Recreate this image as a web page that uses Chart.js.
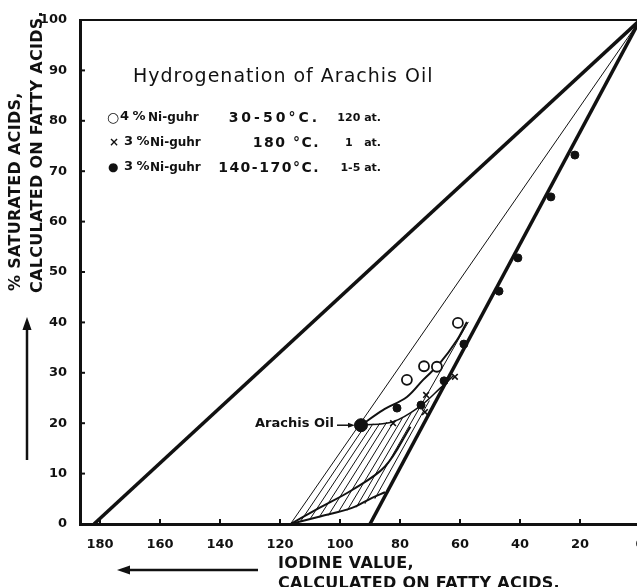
<!DOCTYPE html>
<html>
<head>
<meta charset="UTF-8">
<title>Hydrogenation of Arachis Oil</title>
<script src="https://cdn.jsdelivr.net/npm/chart.js"></script>
<style>
  body { margin: 0; background: #fff; overflow: hidden; }
  #wrap { position: relative; width: 637px; height: 587px; overflow: hidden; }
  #chart { position: absolute; left: 0; top: 0; }
  .t { position: absolute; white-space: nowrap; color: #111; font-family: "DejaVu Sans", sans-serif; }
  .lg { font-size: 12px; font-weight: bold; line-height: 14px; }
  .tp { font-size: 14px; letter-spacing: 1.5px; line-height: 14px; text-align: right; left: 190px; width: 130px; }
  .pr { font-size: 11px; line-height: 14px; text-align: right; left: 320px; width: 61px; }
  .ax { font-size: 16px; font-weight: bold; line-height: 16px; letter-spacing: 0.3px; }
  .rot { transform: rotate(-90deg); transform-origin: left top; }
</style>
</head>
<body>
<div id="wrap">
  <canvas id="chart" width="680" height="587"></canvas>

  <div class="t" style="left:133px; top:64px; font-size:19px; line-height:22px; letter-spacing:1px;">Hydrogenation of Arachis Oil</div>

  <!-- legend -->
  <div class="t lg" style="left:107px; top:110px; font-size:14px;">○</div>
  <div class="t lg" style="left:120px; top:109px; font-size:13px; letter-spacing:-0.5px;">4 %</div>
  <div class="t lg" style="left:148px; top:110px;">Ni-guhr</div>
  <div class="t lg tp" style="top:110px; letter-spacing:3px;">30-50°C.</div>
  <div class="t lg pr" style="top:111px;">120 at.</div>

  <div class="t lg" style="left:109px; top:135px;">×</div>
  <div class="t lg" style="left:124px; top:134px; font-size:13px; letter-spacing:-0.5px;">3 %</div>
  <div class="t lg" style="left:150px; top:135px;">Ni-guhr</div>
  <div class="t lg tp" style="top:135px;">180 °C.</div>
  <div class="t lg pr" style="top:136px;">1 &nbsp;&nbsp;at.</div>

  <div class="t lg" style="left:108px; top:160px;">●</div>
  <div class="t lg" style="left:124px; top:159px; font-size:13px; letter-spacing:-0.5px;">3 %</div>
  <div class="t lg" style="left:150px; top:160px;">Ni-guhr</div>
  <div class="t lg tp" style="top:160px; letter-spacing:1.5px;">140-170°C.</div>
  <div class="t lg pr" style="top:161px;">1-5 at.</div>

  <div class="t lg" style="left:255px; top:416px; font-size:13px;">Arachis Oil</div>

  <!-- axis titles -->
  <div class="t ax rot" style="left:7px; top:291px;">% SATURATED ACIDS,</div>
  <div class="t ax rot" style="left:29px; top:293px;">CALCULATED ON FATTY ACIDS.</div>
  <div class="t ax" style="left:278px; top:555px;">IODINE VALUE,</div>
  <div class="t ax" style="left:278px; top:575px;">CALCULATED ON FATTY ACIDS.</div>
</div>

<script>
// points: iodine value (x), % saturated acids (y)
var arachisOil = [{x: 93, y: 19.6}];
var circles = [{x: 77.7, y: 28.6}, {x: 72.0, y: 31.3}, {x: 67.7, y: 31.2}, {x: 60.7, y: 39.9}];
var crosses = [{x: 82.3, y: 20.0}, {x: 71.3, y: 25.6}, {x: 71.7, y: 22.2}, {x: 61.7, y: 29.2}];
var dots = [{x: 81.0, y: 23.0}, {x: 73.0, y: 23.6}, {x: 65.3, y: 28.4}, {x: 58.7, y: 35.7},
            {x: 47.0, y: 46.2}, {x: 40.7, y: 52.8}, {x: 29.7, y: 64.9}, {x: 21.7, y: 73.2}];

// boundary lines
var linoleicLine = [{x: 182, y: 0}, {x: 0, y: 100}];
var oleicLine = [{x: 90, y: 0}, {x: 0, y: 100}];
var thinLine = [{x: 116.5, y: 0}, {x: 0, y: 100}];

// curves
var upperCurve = [{x: 93, y: 19.6}, {x: 85.7, y: 22.6}, {x: 77.7, y: 25.2}, {x: 72.3, y: 28.6},
                  {x: 66.7, y: 31.9}, {x: 61, y: 36.5}, {x: 57.7, y: 40.1}];
var crossCurve = [{x: 93, y: 19.6}, {x: 82.3, y: 20.3}, {x: 73, y: 23.5}, {x: 66.5, y: 27}, {x: 62, y: 29.5}];
var middleCurve = [{x: 116.5, y: 0}, {x: 107.2, y: 3.1}, {x: 96.1, y: 6.7}, {x: 85, y: 11.4}, {x: 76.5, y: 19.3}];
var lowerCurve = [{x: 116.5, y: 0}, {x: 107.3, y: 1.4}, {x: 96, y: 3.2}, {x: 89.3, y: 5.2}, {x: 85, y: 6.3}];

// hatching: [x0, y0, x1, y1]
var hatch = [
  [113.3, 0.4, 91.3, 19.8],
  [110.2, 0.8, 89.0, 19.9],
  [107.0, 1.3, 86.7, 20.0],
  [103.9, 1.7, 84.4, 20.2],
  [100.7, 2.2, 81.9, 20.5],
  [97.6, 2.7, 79.2, 21.0],
  [94.6, 3.3, 76.3, 22.0],
  [91.7, 4.0, 57.2, 40.1],
  [88.4, 5.0, 70.2, 24.5]
];

var xTickStep = 20;
var yTickStep = 10;

function lineSet(data, width, tension) {
  return {
    type: 'scatter', data: data, showLine: true, borderColor: '#111', borderWidth: width,
    pointRadius: 0, tension: tension || 0, order: 2
  };
}

var datasets = [
  {data: arachisOil, pointRadius: 6.5, pointStyle: 'circle', backgroundColor: '#111', borderColor: '#111', order: 0},
  {data: circles, pointRadius: 5, pointStyle: 'circle', backgroundColor: '#fff', borderColor: '#111', borderWidth: 1.8, order: 0},
  {data: crosses, pointRadius: 4, pointStyle: 'crossRot', borderColor: '#111', borderWidth: 1.6, order: 0},
  {data: dots, pointRadius: 4, pointStyle: 'circle', backgroundColor: '#111', borderColor: '#111', order: 0},
  lineSet(linoleicLine, 3.5),
  lineSet(oleicLine, 3.5),
  lineSet(thinLine, 1),
  lineSet(upperCurve, 2, 0.35),
  lineSet(crossCurve, 1.5, 0.35),
  lineSet(middleCurve, 2, 0.35),
  lineSet(lowerCurve, 2, 0.35)
];
hatch.forEach(function (h) {
  datasets.push(lineSet([{x: h[0], y: h[1]}, {x: h[2], y: h[3]}], 1));
});

function arrow(ctx, x1, y1, x2, y2, w, head) {
  var a = Math.atan2(y2 - y1, x2 - x1);
  ctx.beginPath();
  ctx.lineWidth = w;
  ctx.moveTo(x1, y1);
  ctx.lineTo(x2 - Math.cos(a) * head * 0.8, y2 - Math.sin(a) * head * 0.8);
  ctx.stroke();
  ctx.beginPath();
  ctx.moveTo(x2, y2);
  ctx.lineTo(x2 - Math.cos(a) * head + Math.sin(a) * head * 0.35, y2 - Math.sin(a) * head - Math.cos(a) * head * 0.35);
  ctx.lineTo(x2 - Math.cos(a) * head - Math.sin(a) * head * 0.35, y2 - Math.sin(a) * head + Math.cos(a) * head * 0.35);
  ctx.closePath();
  ctx.fill();
}

var deco = {
  id: 'deco',
  afterDraw: function (chart) {
    var ctx = chart.ctx, a = chart.chartArea, xs = chart.scales.x, ys = chart.scales.y;
    ctx.save();
    ctx.strokeStyle = '#111';
    ctx.fillStyle = '#111';
    // top frame
    ctx.lineWidth = 2;
    ctx.beginPath();
    ctx.moveTo(a.left - 1, a.top);
    ctx.lineTo(chart.width, a.top);
    ctx.stroke();
    // inward ticks
    ctx.lineWidth = 2;
    xs.ticks.forEach(function (t) {
      var px = xs.getPixelForValue(t.value);
      ctx.beginPath();
      ctx.moveTo(px, a.bottom);
      ctx.lineTo(px, a.bottom - 5);
      ctx.stroke();
    });
    ys.ticks.forEach(function (t) {
      var py = ys.getPixelForValue(t.value);
      ctx.beginPath();
      ctx.moveTo(a.left, py);
      ctx.lineTo(a.left + 5, py);
      ctx.stroke();
    });
    // Arachis Oil pointer
    var ax = xs.getPixelForValue(arachisOil[0].x), ay = ys.getPixelForValue(arachisOil[0].y);
    arrow(ctx, ax - 24, ay, ax - 6, ay, 1.5, 7);
    // axis direction arrows
    arrow(ctx, 27, 460, 27, 317, 2.5, 13);
    arrow(ctx, 258, 570, 117, 570, 2.5, 13);
    ctx.restore();
  }
};

new Chart(document.getElementById('chart'), {
  type: 'scatter',
  data: {datasets: datasets},
  options: {
    responsive: false,
    animation: false,
    devicePixelRatio: 1,
    layout: {padding: {top: 20, right: 40, left: 0, bottom: 0}},
    plugins: {legend: {display: false}, tooltip: {enabled: false}},
    scales: {
      x: {
        type: 'linear', reverse: true, min: 0, max: 186.67,
        afterFit: function (s) { s.height = 63; },
        grid: {display: false},
        border: {display: true, color: '#111', width: 3},
        ticks: {
          stepSize: xTickStep, includeBounds: false, padding: 5, color: '#111',
          font: {family: 'DejaVu Sans', size: 13, weight: 'bold'}
        }
      },
      y: {
        type: 'linear', min: 0, max: 100,
        afterFit: function (s) { s.width = 80; },
        grid: {display: false},
        border: {display: true, color: '#111', width: 3},
        ticks: {
          stepSize: yTickStep, padding: 5, color: '#111',
          font: {family: 'DejaVu Sans', size: 13, weight: 'bold'}
        }
      }
    }
  },
  plugins: [deco]
});
</script>
</body>
</html>
